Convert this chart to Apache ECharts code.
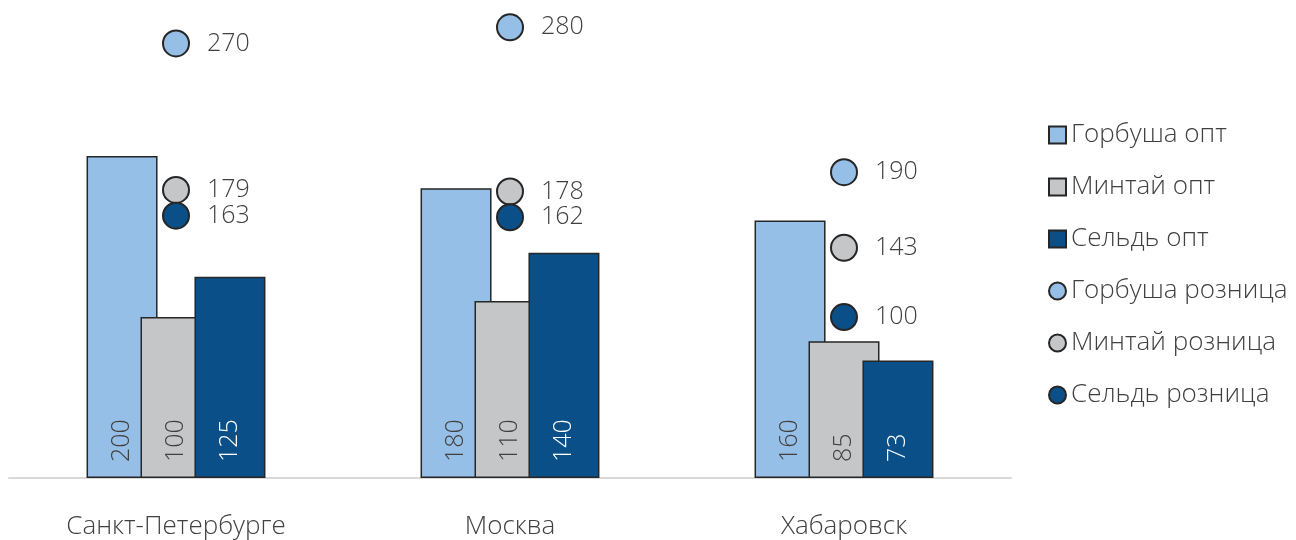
<!DOCTYPE html>
<html>
<head>
<meta charset="utf-8">
<script src="https://cdn.jsdelivr.net/npm/echarts@6/dist/echarts.min.js"></script>
<style>
  html, body { margin: 0; padding: 0; background: #fff; }
  #chart { width: 1296px; height: 540px; }
</style>
</head>
<body>
<div id="chart"></div>
<script>
// города
var cities = ["Санкт-Петербурге", "Москва", "Хабаровск"];
// оптовые цены (столбцы)
var gorbushaOpt = [200, 180, 160];
var mintaiOpt = [100, 110, 85];
var seldOpt = [125, 140, 73];
// розничные цены (точки)
var gorbushaRozn = [270, 280, 190];
var mintaiRozn = [179, 178, 143];
var seldRozn = [163, 162, 100];

var FONT = "'Open Sans', 'Noto Sans', sans-serif";
var TEXT = "#404040";
var colors = { gorbusha: "#95bfe6", mintai: "#c5c6c8", seld: "#0a4f88" };
var border = "#262626";

function barSeries(name, data, color, labelColor) {
  return {
    name: name,
    type: "bar",
    data: data,
    barWidth: 71,
    barGap: "-24%",
    itemStyle: { color: color, borderColor: border, borderWidth: 1.5 },
    label: {
      show: true,
      position: "insideBottom",
      rotate: 90,
      align: "left",
      verticalAlign: "middle",
      distance: 16,
      fontSize: 25,
      fontFamily: FONT,
      fontWeight: 300,
      color: labelColor,
    },
  };
}

function dotSeries(name, data, color) {
  return {
    name: name,
    type: "scatter",
    data: data,
    symbol: "circle",
    symbolSize: 26,
    z: 5,
    itemStyle: { color: color, borderColor: border, borderWidth: 2, opacity: 1 },
    label: {
      show: true,
      position: "right",
      distance: 17,
      fontSize: 25,
      fontFamily: FONT,
      fontWeight: 300,
      color: TEXT,
    },
  };
}

var chart = echarts.init(document.getElementById("chart"));
chart.setOption({
  animation: false,
  grid: { left: 9, right: 285, top: 0, bottom: 59 },
  legend: {
    orient: "vertical",
    left: 1048,
    top: 122,
    padding: 0,
    itemWidth: 17,
    itemHeight: 17,
    itemGap: 26,
    itemTextGap: 10,
    textStyle: { fontSize: 26, fontFamily: FONT, fontWeight: 300, color: TEXT },
    data: [
      { name: "Горбуша опт", icon: "rect" },
      { name: "Минтай опт", icon: "rect" },
      { name: "Сельдь опт", icon: "rect" },
      { name: "Горбуша розница", icon: "circle" },
      { name: "Минтай розница", icon: "circle" },
      { name: "Сельдь розница", icon: "circle" },
    ],
  },
  xAxis: {
    type: "category",
    data: cities,
    axisLine: { lineStyle: { color: "#d9d9d9", width: 2 } },
    axisTick: { show: false },
    axisLabel: { fontSize: 26, fontFamily: FONT, fontWeight: 300, color: TEXT, margin: 36 },
  },
  yAxis: {
    type: "value",
    min: 0,
    max: 297,
    show: false,
    splitLine: { show: false },
  },
  series: [
    barSeries("Горбуша опт", gorbushaOpt, colors.gorbusha, TEXT),
    barSeries("Минтай опт", mintaiOpt, colors.mintai, TEXT),
    barSeries("Сельдь опт", seldOpt, colors.seld, "#ffffff"),
    dotSeries("Горбуша розница", gorbushaRozn, colors.gorbusha),
    dotSeries("Минтай розница", mintaiRozn, colors.mintai),
    dotSeries("Сельдь розница", seldRozn, colors.seld),
  ],
});
</script>
</body>
</html>
